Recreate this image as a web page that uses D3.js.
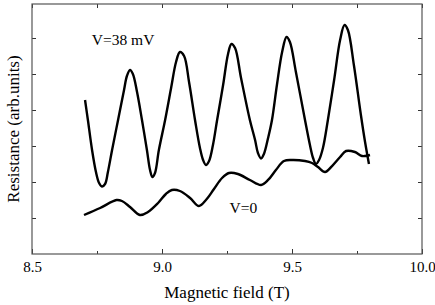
<!DOCTYPE html>
<html>
<head>
<meta charset="utf-8">
<script src="https://cdn.jsdelivr.net/npm/d3@7"></script>
<style>
  body { margin: 0; background: #fff; }
  svg text { font-family: "Liberation Serif", "DejaVu Serif", serif !important; fill: #000; }
</style>
</head>
<body>
<svg id="chart"></svg>
<script>
// magnetic field (T) and resistance (arb. units)
const field38 = [8.704, 8.715, 8.731, 8.746, 8.758, 8.769, 8.781, 8.792, 8.808, 8.831, 8.854, 8.865, 8.877, 8.888, 8.904, 8.923, 8.942, 8.954, 8.963, 8.973, 8.988,
  9.012, 9.035, 9.054, 9.069, 9.085, 9.104, 9.127, 9.146, 9.158, 9.169, 9.181, 9.196, 9.212, 9.235, 9.254, 9.267, 9.281, 9.304, 9.338, 9.358, 9.369, 9.381, 9.392,
  9.408, 9.423, 9.442, 9.462, 9.479, 9.492, 9.515, 9.550, 9.569, 9.581, 9.592, 9.604, 9.619, 9.638, 9.662, 9.685, 9.702, 9.715, 9.738, 9.765, 9.781, 9.796];
const res38 = [4.278, 3.722, 2.889, 2.278, 1.972, 1.875, 1.944, 2.278, 2.889, 3.722, 4.556, 4.944, 5.111, 5.0, 4.5, 3.722, 2.889, 2.333, 2.139, 2.25, 2.889,
  3.722, 4.611, 5.333, 5.611, 5.5, 4.778, 3.722, 2.944, 2.611, 2.472, 2.583, 3.028, 3.722, 4.694, 5.556, 5.833, 5.722, 4.889, 3.722, 3.167, 2.806, 2.653, 2.778,
  3.222, 3.722, 4.694, 5.611, 6.028, 5.889, 5.056, 3.722, 3.028, 2.667, 2.5, 2.611, 2.944, 3.722, 4.833, 5.944, 6.361, 6.222, 5.25, 3.861, 3.111, 2.5];

const field0 = [8.700, 8.762, 8.825, 8.846, 8.877, 8.915, 8.946, 8.985, 9.015, 9.038, 9.069, 9.108, 9.142, 9.169, 9.200, 9.231, 9.258, 9.292, 9.338, 9.381,
  9.408, 9.438, 9.469, 9.500, 9.550, 9.577, 9.600, 9.627, 9.654, 9.685, 9.708, 9.742, 9.769, 9.800];
const res0 = [1.083, 1.278, 1.5, 1.472, 1.306, 1.083, 1.167, 1.417, 1.667, 1.778, 1.75, 1.556, 1.333, 1.5, 1.806, 2.111, 2.25, 2.222, 2.056, 1.917,
  2.056, 2.333, 2.583, 2.611, 2.583, 2.528, 2.417, 2.278, 2.444, 2.694, 2.861, 2.833, 2.722, 2.75];

const xTicks = [8.5, 9.0, 9.5, 10.0];
const xMinor = [8.75, 9.25, 9.75];
const yTicks = [1, 2, 3, 4, 5, 6];

const width = 435;
const height = 305;
const margin = { top: 4, right: 13, bottom: 51, left: 32 };
const chartWidth = width - margin.left - margin.right;
const chartHeight = height - margin.top - margin.bottom;

const svg = d3.select('#chart')
  .attr('width', width)
  .attr('height', height)
  .attr('font-family', 'Liberation Serif, DejaVu Serif, serif');

const xScale = d3.scaleLinear()
  .domain([8.5, 10.0])
  .range([0, chartWidth]);

const yScale = d3.scaleLinear()
  .domain([0, chartHeight / 36])
  .range([chartHeight, 0]);

const chart = svg.append('g')
  .attr('transform', `translate(${margin.left},${margin.top})`);

// bottom axis with labels, ticks pointing inward
const bottom = chart.append('g')
  .attr('transform', `translate(0,${chartHeight})`)
  .call(d3.axisBottom(xScale).tickValues(xTicks).tickFormat(d3.format('.1f'))
    .tickSizeInner(-5).tickSizeOuter(0).tickPadding(7));
bottom.attr('font-family', null).attr('font-size', null);
bottom.selectAll('text').style('font-size', '15px');

chart.append('g')
  .attr('transform', `translate(0,${chartHeight})`)
  .call(d3.axisBottom(xScale).tickValues(xMinor).tickFormat('').tickSizeInner(-3).tickSizeOuter(0));

chart.append('g')
  .call(d3.axisTop(xScale).tickValues(xTicks.concat(xMinor)).tickFormat('').tickSizeInner(-4).tickSizeOuter(0));

chart.append('g')
  .call(d3.axisLeft(yScale).tickValues(yTicks).tickFormat('').tickSizeInner(-4).tickSizeOuter(0));

chart.append('g')
  .attr('transform', `translate(${chartWidth},0)`)
  .call(d3.axisRight(yScale).tickValues(yTicks).tickFormat('').tickSizeInner(-4).tickSizeOuter(0));

chart.selectAll('.domain').remove();
chart.selectAll('.tick line').attr('stroke', '#333');

chart.append('rect')
  .attr('width', chartWidth)
  .attr('height', chartHeight)
  .attr('fill', 'none')
  .attr('stroke', '#555')
  .attr('stroke-width', 1.2);

const line = d3.line()
  .x(d => xScale(d[0]))
  .y(d => yScale(d[1]))
  .curve(d3.curveCatmullRom.alpha(0.5));

chart.append('path')
  .datum(d3.zip(field38, res38))
  .attr('fill', 'none')
  .attr('stroke', '#000')
  .attr('stroke-width', 2.4)
  .attr('d', line);

chart.append('path')
  .datum(d3.zip(field0, res0))
  .attr('fill', 'none')
  .attr('stroke', '#000')
  .attr('stroke-width', 2.4)
  .attr('d', line);

chart.append('text')
  .attr('x', xScale(8.73))
  .attr('y', yScale(5.8))
  .style('font-size', '15.5px')
  .text('V=38 mV');

chart.append('text')
  .attr('x', xScale(9.26))
  .attr('y', yScale(1.15))
  .style('font-size', '15.5px')
  .text('V=0');

svg.append('text')
  .attr('x', margin.left + chartWidth / 2)
  .attr('y', 298)
  .attr('text-anchor', 'middle')
  .style('font-size', '17px')
  .text('Magnetic field (T)');

svg.append('text')
  .attr('transform', `translate(19,${margin.top + chartHeight / 2}) rotate(-90)`)
  .attr('text-anchor', 'middle')
  .style('font-size', '17px')
  .text('Resistance (arb.units)');
</script>
</body>
</html>
